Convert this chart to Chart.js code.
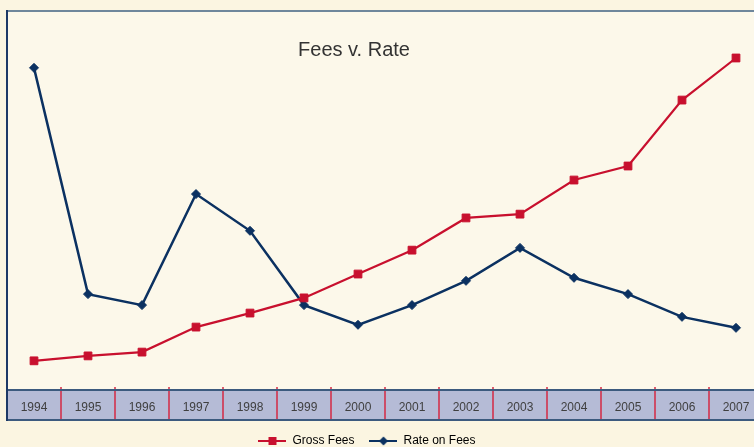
<!DOCTYPE html>
<html>
<head>
<meta charset="utf-8">
<title>Fees v. Rate</title>
<script src="https://cdn.jsdelivr.net/npm/chart.js@4.4.0/dist/chart.umd.min.js"></script>
<style>
  body { margin: 0; background: #fbf5e1; }
  #wrap { width: 754px; height: 447px; overflow: hidden; }
  canvas { display: block; }
</style>
</head>
<body>
<div id="wrap"><canvas id="feesRate" width="770" height="458"></canvas></div>
<script>
// values (index scale, no axis shown)
const years = ['1994','1995','1996','1997','1998','1999','2000','2001','2002','2003','2004','2005','2006','2007'];
const grossFees = [7.7, 9.0, 10.0, 16.6, 20.3, 24.3, 30.6, 36.9, 45.4, 46.4, 55.4, 59.1, 76.5, 87.6];
const rateOnFees = [85.0, 25.3, 22.4, 51.7, 42.0, 22.4, 17.2, 22.4, 28.8, 37.5, 29.6, 25.3, 19.3, 16.4];
const seriesNames = ['Gross Fees', 'Rate on Fees'];
const chartTitle = 'Fees v. Rate';

const red = '#c8102e';
const navy = '#0b3161';
const narrow = '"Liberation Sans Narrow", "Liberation Sans", Arial, sans-serif';

// little line+marker picture for the legend
function legendIcon(color, style) {
    const c = document.createElement('canvas');
    c.width = 28;
    c.height = 12;
    const g = c.getContext('2d');
    g.strokeStyle = color;
    g.fillStyle = color;
    g.lineWidth = 2;
    g.beginPath();
    g.moveTo(0, 6);
    g.lineTo(28, 6);
    g.stroke();
    g.beginPath();
    if (style === 'rect') {
        g.rect(10, 2, 8, 8);
    } else {
        g.moveTo(14, 1.5); g.lineTo(18.5, 6); g.lineTo(14, 10.5); g.lineTo(9.5, 6);
        g.closePath();
    }
    g.fill();
    return c;
}

const framePlugin = {
    id: 'frame',
    beforeDraw(chart) {
        const {ctx, chartArea, width, height} = chart;
        const x = chart.scales.x;
        const bandTop = chartArea.bottom, bandBottom = x.bottom;
        ctx.save();
        ctx.fillStyle = '#fbf5e1';
        ctx.fillRect(0, 0, width, height);
        ctx.fillStyle = '#fcf8ea';
        ctx.fillRect(chartArea.left, chartArea.top, width - chartArea.left, bandTop - chartArea.top);
        ctx.fillStyle = '#b5bbd6';
        ctx.fillRect(chartArea.left, bandTop, width - chartArea.left, bandBottom - bandTop);

        // category separators
        ctx.strokeStyle = '#d42a44';
        ctx.lineWidth = 1.5;
        ctx.beginPath();
        for (let i = 1; i < years.length; i++) {
            const px = Math.round((x.getPixelForTick(i - 1) + x.getPixelForTick(i)) / 2);
            ctx.moveTo(px, bandTop - 3);
            ctx.lineTo(px, bandBottom);
        }
        ctx.stroke();

        // band edges
        ctx.strokeStyle = '#3c5a7e';
        ctx.lineWidth = 2;
        ctx.beginPath();
        ctx.moveTo(chartArea.left - 1, bandTop); ctx.lineTo(width, bandTop);
        ctx.moveTo(chartArea.left - 1, bandBottom); ctx.lineTo(width, bandBottom);
        ctx.stroke();

        // frame
        ctx.strokeStyle = '#6f879c';
        ctx.beginPath();
        ctx.moveTo(chartArea.left - 1, chartArea.top); ctx.lineTo(width, chartArea.top);
        ctx.stroke();
        ctx.strokeStyle = '#1d3966';
        ctx.beginPath();
        ctx.moveTo(chartArea.left, chartArea.top - 1); ctx.lineTo(chartArea.left, bandBottom + 1);
        ctx.stroke();

        // title sits inside the plot
        ctx.fillStyle = '#333333';
        ctx.font = '20px ' + narrow;
        ctx.textAlign = 'center';
        ctx.textBaseline = 'middle';
        ctx.fillText(chartTitle, 354, 50);
        ctx.restore();
    },
    afterLayout(chart) {
        // legend is centred a bit left of the plot in the original
        chart.legend.left -= 18;
        chart.legend.right -= 18;
    }
};

const ctx1 = document.getElementById('feesRate');
new Chart(ctx1, {
    type: 'line',
    data: {
        labels: years,
        datasets: [{
            label: seriesNames[0],
            data: grossFees,
            borderColor: red,
            backgroundColor: red,
            borderWidth: 2.2,
            pointStyle: 'rect',
            pointRadius: 5.5,
            pointBorderWidth: 1,
            tension: 0,
            legendIcon: legendIcon(red, 'rect')
        }, {
            label: seriesNames[1],
            data: rateOnFees,
            borderColor: navy,
            backgroundColor: navy,
            borderWidth: 2.5,
            pointStyle: 'rectRot',
            pointRadius: 4.5,
            pointBorderWidth: 1,
            tension: 0,
            legendIcon: legendIcon(navy, 'diamond')
        }]
    },
    options: {
        responsive: false,
        animation: false,
        layout: { padding: { left: 7, right: 7, top: 11, bottom: 1 } },
        scales: {
            x: {
                offset: true,
                grid: { display: false, drawTicks: false },
                border: { display: false },
                ticks: {
                    padding: 10,
                    color: '#404040',
                    font: { family: narrow, size: 12 }
                },
                afterFit(axis) { axis.height = 30; }
            },
            y: {
                display: false,
                min: 0,
                max: 100
            }
        },
        plugins: {
            title: { display: false },
            tooltip: { enabled: false },
            legend: {
                position: 'bottom',
                labels: {
                    usePointStyle: true,
                    pointStyleWidth: 28,
                    boxHeight: 12,
                    padding: 15,
                    color: '#333333',
                    font: { family: narrow, size: 12 },
                    generateLabels: chart => chart.data.datasets.map((ds, i) => ({
                        text: ds.label,
                        pointStyle: ds.legendIcon,
                        fillStyle: ds.borderColor,
                        strokeStyle: ds.borderColor,
                        lineWidth: 0,
                        hidden: false,
                        datasetIndex: i
                    }))
                }
            }
        }
    },
    plugins: [framePlugin]
});
</script>
</body>
</html>
